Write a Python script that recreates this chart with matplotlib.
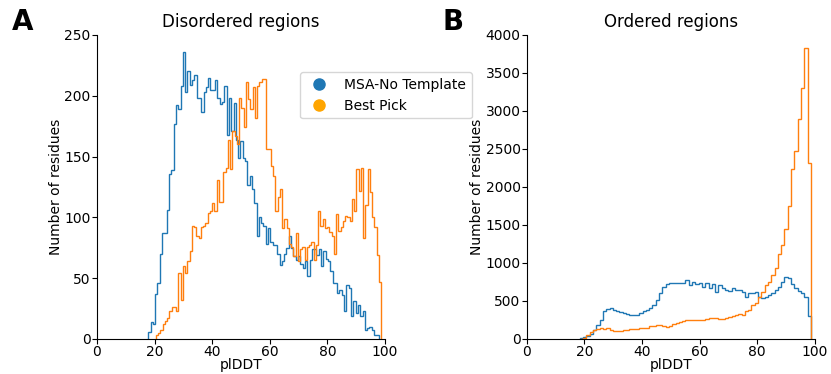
import numpy as np
import matplotlib
matplotlib.use("Agg")
import matplotlib.pyplot as plt
from matplotlib.lines import Line2D

# pLDDT histograms
# panel A: disordered regions
a_blue_range = (17.8, 97.8)
a_blue = [6, 14, 12, 37, 46, 70, 87, 87, 106, 136, 139, 177, 192, 189, 208, 236, 203, 220, 209, 213,
          217, 198, 198, 187, 203, 207, 215, 205, 205, 213, 198, 193, 195, 208, 168, 198, 171, 194, 164, 149,
          163, 149, 146, 127, 134, 123, 112, 85, 100, 95, 93, 78, 91, 80, 77, 77, 70, 61, 64, 70,
          75, 85, 75, 68, 65, 68, 62, 58, 64, 52, 65, 74, 74, 69, 74, 60, 72, 66, 64, 56,
          46, 46, 38, 40, 36, 23, 44, 42, 19, 31, 21, 28, 19, 23, 7, 9, 10, 7, 3, 3]
a_orange_range = (20.4, 98.7)
a_orange = [3, 5, 7, 12, 15, 17, 23, 26, 26, 23, 54, 32, 60, 54, 64, 72, 93, 92, 85, 83,
            92, 93, 95, 104, 105, 112, 105, 131, 113, 113, 137, 141, 164, 140, 171, 167, 160, 198, 190, 174,
            211, 197, 189, 207, 182, 208, 211, 214, 214, 156, 156, 142, 134, 105, 117, 123, 91, 99, 91, 78,
            76, 68, 87, 64, 74, 76, 65, 76, 77, 80, 65, 77, 105, 93, 99, 91, 92, 88, 85, 70,
            103, 89, 92, 97, 101, 100, 97, 115, 105, 140, 122, 141, 83, 110, 140, 121, 100, 92, 69, 47]

# panel B: ordered regions
b_range = (18.4, 98.6)
b_blue = [13, 20, 40, 65, 122, 187, 252, 362, 396, 405, 383, 370, 353, 340, 327, 310, 310, 318, 340, 362,
          383, 405, 448, 514, 601, 680, 725, 732, 735, 741, 735, 732, 775, 710, 745, 720, 732, 689, 732, 675,
          718, 623, 710, 667, 644, 632, 667, 644, 645, 623, 558, 601, 601, 623, 558, 536, 558, 580, 601, 645,
          689, 754, 819, 797, 720, 667, 634, 600, 558, 300]
b_orange = [5, 13, 50, 90, 115, 135, 144, 135, 144, 122, 100, 100, 109, 122, 122, 131, 135, 135, 144, 149,
            144, 166, 166, 187, 187, 166, 155, 175, 198, 215, 226, 240, 246, 250, 256, 252, 246, 248, 265, 274,
            274, 274, 263, 263, 276, 288, 296, 311, 333, 318, 362, 383, 448, 470, 558, 623, 710, 754, 840, 928,
            1124, 1233, 1451, 1755, 2235, 2474, 2900, 3300, 3826, 2320]

labels = ["MSA-No Template", "Best Pick"]
c_blue = "#1f77b4"
c_orange = "#ff7f0e"


def edges(rng, vals):
    return np.linspace(rng[0], rng[1], len(vals) + 1)


fig = plt.figure(figsize=(8.31, 3.74), dpi=100)
ax1 = fig.add_axes([0.1167, 0.0936, 0.3466, 0.813])
ax2 = fig.add_axes([0.634, 0.0936, 0.3466, 0.813])

ax1.stairs(a_blue, edges(a_blue_range, a_blue), color=c_blue, lw=1)
ax1.stairs(a_orange, edges(a_orange_range, a_orange), color=c_orange, lw=1)
ax2.stairs(b_blue, edges(b_range, b_blue), color=c_blue, lw=1)
ax2.stairs(b_orange, edges(b_range, b_orange), color=c_orange, lw=1)

for ax, title, ymax, step in [(ax1, "Disordered regions", 250, 50), (ax2, "Ordered regions", 4000, 500)]:
    ax.set_xlim(0, 100)
    ax.set_ylim(0, ymax)
    ax.set_xticks(range(0, 101, 20))
    ax.set_yticks(range(0, ymax + 1, step))
    ax.tick_params(pad=1)
    ax.set_title(title, fontsize=12)
    ax.set_xlabel("plDDT", labelpad=-1)
    ax.set_ylabel("Number of residues", labelpad=1)
    ax.spines["top"].set_visible(False)
    ax.spines["right"].set_visible(False)

handles = [Line2D([], [], ls="none", marker="o", ms=8, color=c_blue),
           Line2D([], [], ls="none", marker="o", ms=8, color="orange")]
ax1.legend(handles, labels, loc="upper left", bbox_to_anchor=(0.68, 0.90), fontsize=10)

fig.text(0.014, 0.94, "A", fontsize=20, fontweight="bold", va="center")
fig.text(0.532, 0.94, "B", fontsize=20, fontweight="bold", va="center")

fig.savefig("out.png", dpi=100)
